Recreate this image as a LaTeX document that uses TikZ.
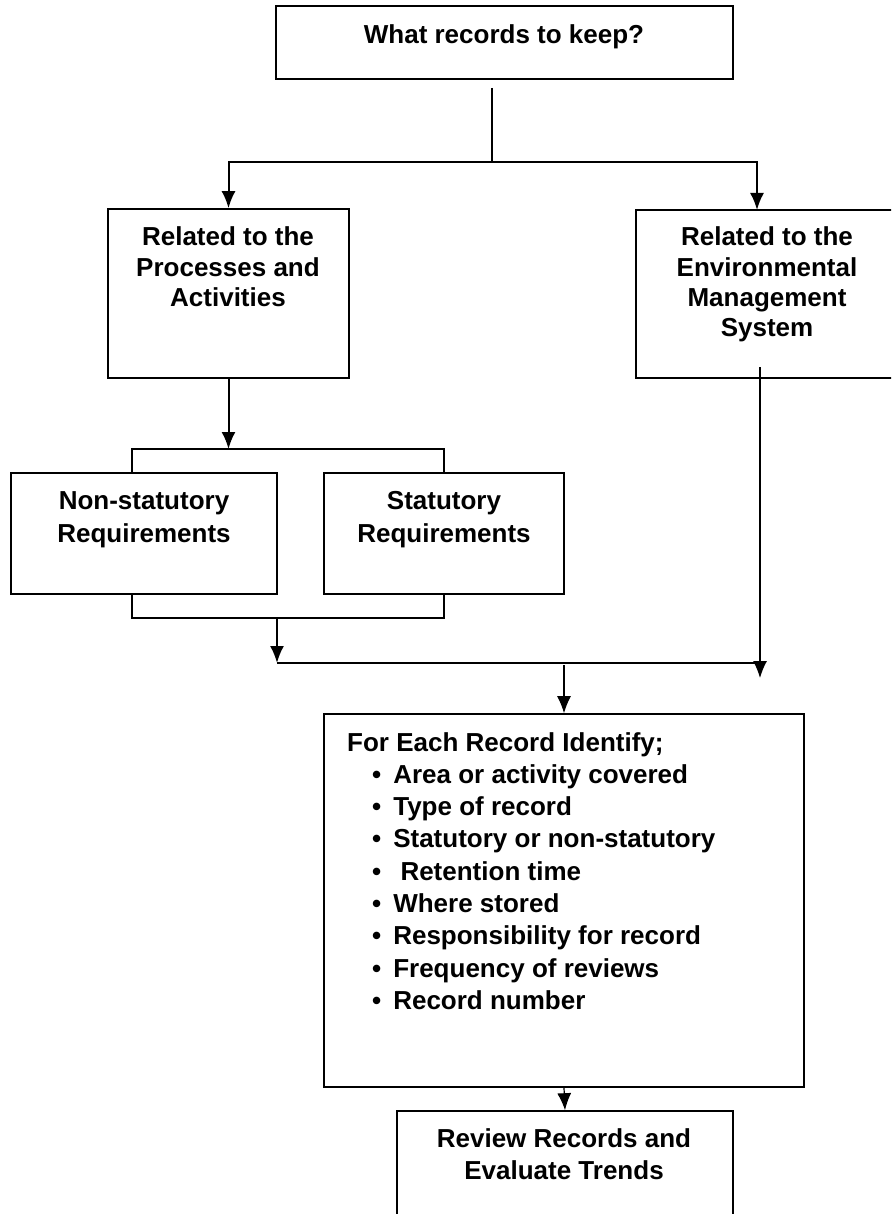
\documentclass[tikz,border=0pt]{standalone}
\usepackage{fontspec}
\setmainfont{Liberation Sans}
\usetikzlibrary{arrows.meta, calc}

% bullet for the record list
\newcommand{\recitem}{\hspace*{25pt}\textbullet\hspace*{12pt}}

\begin{document}
\begin{tikzpicture}[x=1pt, y=-1pt,
  box/.style={draw, line width=1.6pt, inner sep=0pt},
  boxtext/.style={font=\bfseries\fontsize{26}{30}\selectfont, align=center, anchor=base, inner sep=0pt},
  conn/.style={line width=2pt},
  thinconn/.style={line width=1.2pt},
  >={Latex[length=17pt, width=14pt]}]
\useasboundingbox (0,0) rectangle (891,1214);
\clip (0,0) rectangle (891,1214);

% Boxes
\node[box, minimum width=457pt, minimum height=73pt] (keep) at (504.5,42.5) {};
\node[box, minimum width=241pt, minimum height=169pt] (proc) at (228.5,293.5) {};
\node[box, minimum width=262pt, minimum height=168pt] (ems) at (767,294) {};
\node[box, minimum width=266pt, minimum height=121pt] (nonstat) at (144,533.5) {};
\node[box, minimum width=240pt, minimum height=121pt] (stat) at (444,533.5) {};
\node[box, minimum width=480pt, minimum height=373pt] (ident) at (564,900.5) {};
\node[box, minimum width=336pt, minimum height=130pt] (review) at (565,1176) {};

% Texts (anchored at the baseline of their last line)
\node[boxtext] (keeptext) at (504,44) {What records to keep?};
\node[boxtext] (proctext) at (228,306) {Related to the\\Processes and\\Activities};
\node[boxtext] (emstext) at (767,336) {Related to the\\Environmental\\Management\\System};
\node[boxtext, font=\bfseries\fontsize{26}{33}\selectfont] (nonstattext) at (144,542) {Non-statutory\\Requirements};
\node[boxtext, font=\bfseries\fontsize{26}{33}\selectfont] (stattext) at (444,542) {Statutory\\Requirements};
\node[boxtext, anchor=base west, align=left, font=\bfseries\fontsize{26}{32.3}\selectfont] (identtext) at (347,1009.4)
  {For Each Record Identify;\\
   \recitem Area or activity covered\\
   \recitem Type of record\\
   \recitem Statutory or non-statutory\\
   \recitem\ Retention time\\
   \recitem Where stored\\
   \recitem Responsibility for record\\
   \recitem Frequency of reviews\\
   \recitem Record number};
\node[boxtext, font=\bfseries\fontsize{26}{32}\selectfont] (reviewtext) at (564,1179) {Review Records and\\Evaluate Trends};

% Split below the question
\coordinate (keepout) at (492,88);
\coordinate (split) at (492,162);
\coordinate (emsin) at (757,210);
\draw[thinconn] (keepout) -- (split);
\draw[conn, ->] (split) -| (proc.north);
\draw[conn, ->] (split) -| (emsin);

% Bracket round the requirements
\coordinate (procin) at (228.5,449);
\coordinate (nontop) at (132,473);
\coordinate (brtop) at (444,449);
\coordinate (nonbot) at (132,594);
\coordinate (brbot) at (444,618);
\draw[conn, ->] (proc.south) -- (procin);
\draw[conn] (nontop) |- (brtop) -- (stat.north);
\draw[conn] (nonbot) |- (brbot) -- (stat.south);

% Join line
\coordinate (brout) at (277,618);
\coordinate (joinleft) at (277,663);
\coordinate (joinright) at (760,663);
\coordinate (emsout) at (760,367);
\coordinate (emsend) at (760,678);
\draw[conn, ->] (brout) -- (joinleft);
\draw[conn] (joinleft) -- (joinright);
\draw[thinconn, ->] (emsout) -- (emsend);

% Down to the record list and the review
\coordinate (joinmid) at (564,665);
\draw[thinconn, ->] (joinmid) -- (ident.north);
\draw[thinconn, ->] (ident.south) -- (review.north);

\end{tikzpicture}
\end{document}
